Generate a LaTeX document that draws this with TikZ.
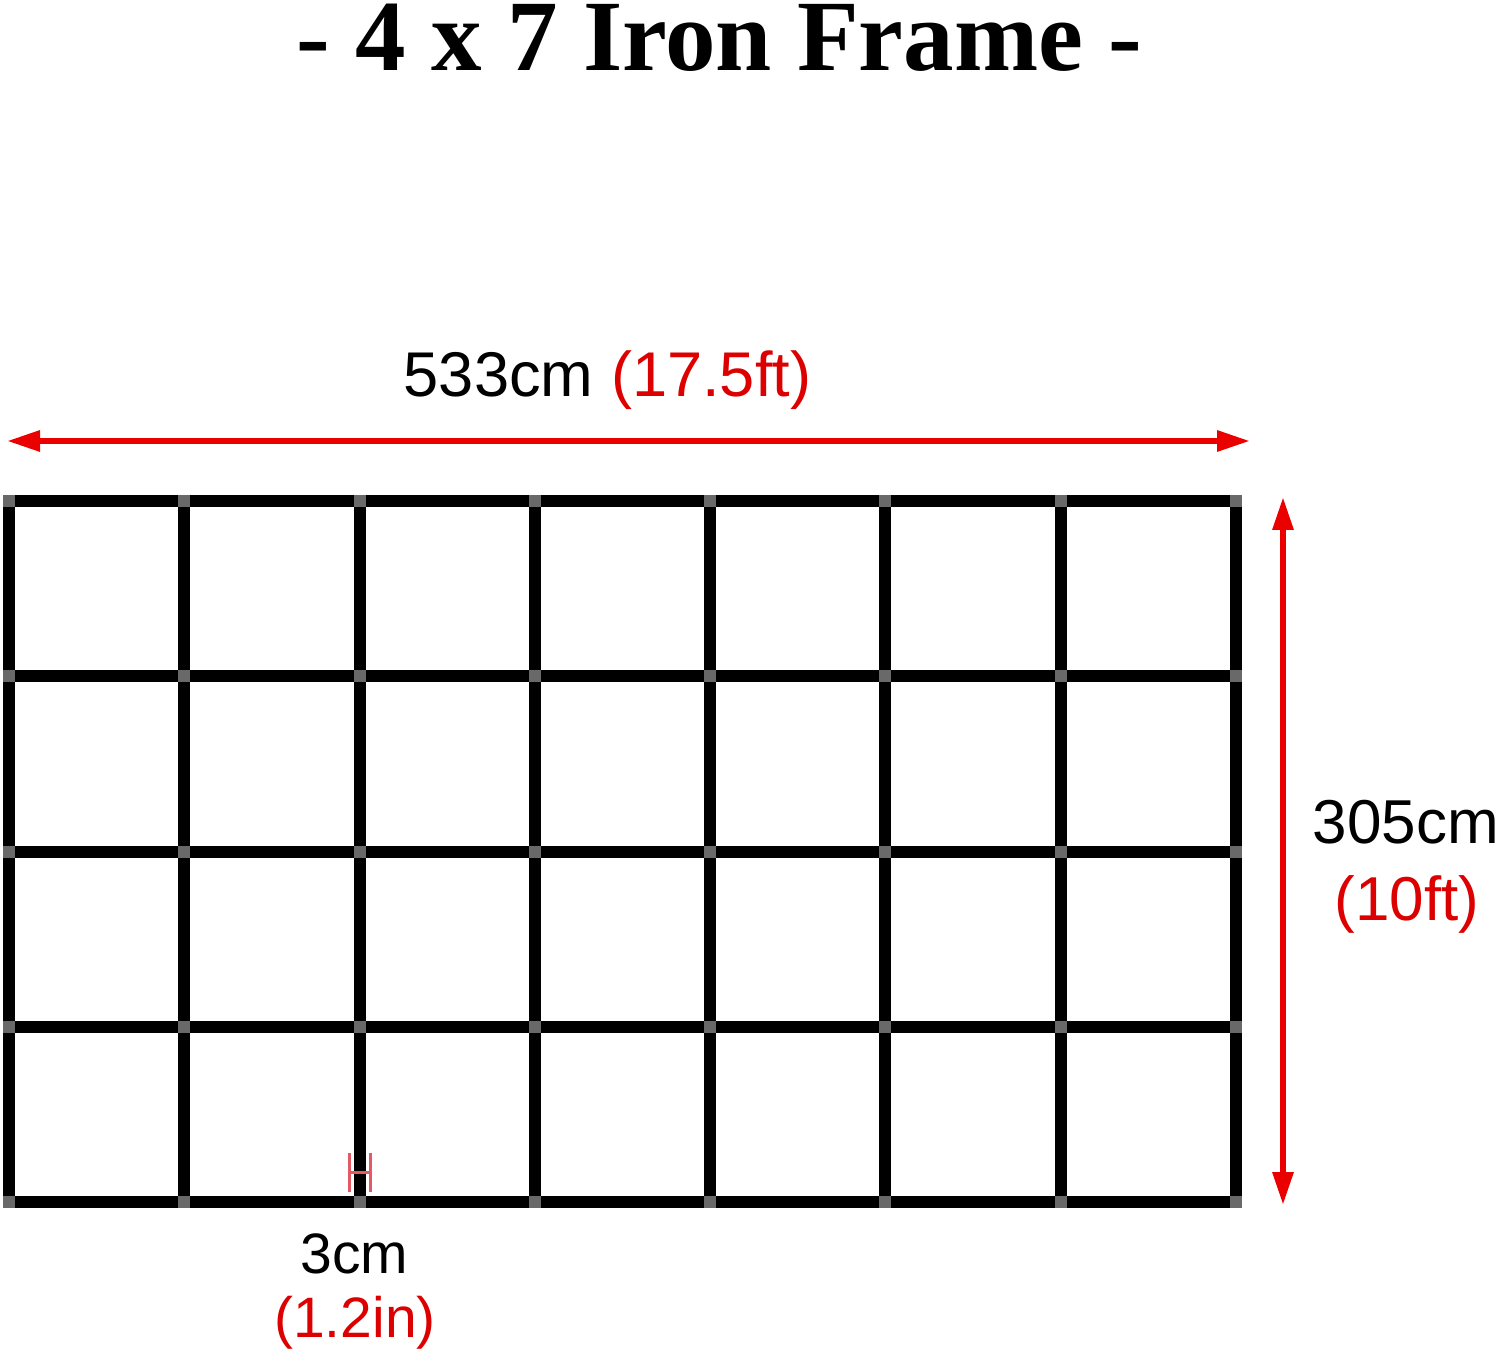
\documentclass[tikz,border=0pt]{standalone}
\usepackage{fontspec}
\setmainfont{Liberation Serif}
\newfontfamily\arialfont{Liberation Sans}
\usetikzlibrary{arrows.meta}
\definecolor{dimred}{RGB}{220,0,0}
\definecolor{arrred}{RGB}{235,0,0}
\definecolor{markred}{RGB}{228,90,100}
\definecolor{joint}{RGB}{105,105,105}
\begin{document}
\begin{tikzpicture}[x=0.5pt,y=-0.5pt,
  bar/.style={line width=6pt, line cap=rect, black},
  dimarrow/.style={arrred, line width=3pt,
    {Triangle[length=16.5pt,width=10pt]}-{Triangle[length=16.5pt,width=10pt]}},
  dimtext/.style={font=\arialfont\fontsize{31}{37}\selectfont, anchor=base, inner sep=0pt},
  smalltext/.style={font=\arialfont\fontsize{28.5}{34}\selectfont, anchor=base, inner sep=0pt},
  titletext/.style={font=\bfseries\fontsize{50.5}{60}\selectfont, anchor=base, inner sep=0pt, text height=34pt},
  marker/.style={markred, line width=1.5pt}]
\useasboundingbox (0,0) rectangle (1500,1352);
% title
\node[titletext] (title) at (719.5,71) {- 4 x 7 Iron Frame -};
% grid
\foreach \i in {0,...,7}
  \draw[bar] ({9+\i*175.2857},501.5) -- ({9+\i*175.2857},1201.5);
\foreach \j in {0,...,4}
  \draw[bar] (9,{501.5+\j*175}) -- (1236,{501.5+\j*175});
\foreach \i in {0,...,7}
  \foreach \j in {0,...,4}
    \fill[joint] ({9+\i*175.2857-6},{501.5+\j*175-6}) rectangle +(12,12);
% width dimension
\coordinate (wl) at (7,441);
\coordinate (wr) at (1250,441);
\draw[dimarrow] (wl) -- (wr);
\node[dimtext, font=\arialfont\fontsize{31.6}{37}\selectfont] (wlabel) at (607.5,397) {533cm {\color{dimred}(17.5ft)}};
% height dimension
\coordinate (ht) at (1283,497);
\coordinate (hb) at (1283,1205);
\draw[dimarrow] (ht) -- (hb);
\node[dimtext] (hlabel) at (1406,843) {305cm};
\node[dimtext, text=dimred] (hlabel2) at (1407,920) {(10ft)};
% bar thickness marker
\coordinate (m1t) at (349,1153);
\coordinate (m1b) at (349,1192);
\coordinate (m2t) at (370,1153);
\coordinate (m2b) at (370,1192);
\coordinate (mcl) at (349,1172);
\coordinate (mcr) at (370,1172);
\draw[marker] (m1t) -- (m1b);
\draw[marker] (m2t) -- (m2b);
\draw[marker] (mcl) -- (mcr);
\node[smalltext] (tlabel) at (354.5,1273) {3cm};
\node[smalltext, text=dimred] (tlabel2) at (355,1337) {(1.2in)};
\end{tikzpicture}
\end{document}
